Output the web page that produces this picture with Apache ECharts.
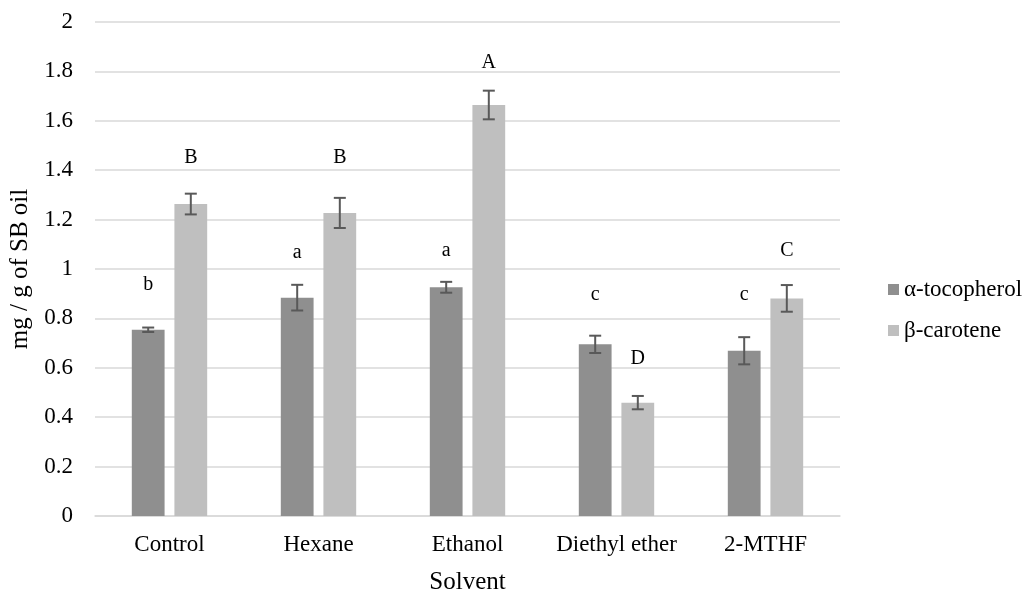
<!DOCTYPE html>
<html>
<head>
<meta charset="utf-8">
<script src="https://cdn.jsdelivr.net/npm/echarts@6/dist/echarts.min.js"></script>
<style>
html,body{margin:0;padding:0;background:#fff;}
#main{width:1026px;height:591px;}
</style>
</head>
<body>
<div id="main"></div>
<script>
// 数据
var solvents = ['Control', 'Hexane', 'Ethanol', 'Diethyl ether', '2-MTHF'];
var seriesNames = ['α-tocopherol', 'β-carotene'];
var tocoValues = [0.754, 0.884, 0.926, 0.695, 0.669];
var tocoErr = [0.009, 0.052, 0.022, 0.035, 0.055];
var caroValues = [1.263, 1.227, 1.664, 0.459, 0.881];
var caroErr = [0.042, 0.061, 0.058, 0.027, 0.054];
// 显著性字母及其高度
var tocoLetters = ['b', 'a', 'a', 'c', 'c'];
var tocoLetterY = [0.935, 1.065, 1.075, 0.895, 0.895];
var caroLetters = ['B', 'B', 'A', 'D', 'C'];
var caroLetterY = [1.449, 1.449, 1.833, 0.638, 1.075];
var yTicks = [0, 2, 0.2];

var colors = ['#8f8f8f', '#bfbfbf'];
var BAR_W = 0.22, BAR_GAP = 0.3;
var font = '"Liberation Serif", "Times New Roman", serif';

function makeErr(vals, errs) {
	return vals.map(function (v, i) { return [i, v - errs[i], v + errs[i]]; });
}
function makeLetters(ys, letters) {
	return ys.map(function (y, i) { return [i, y, letters[i]]; });
}

// 误差线
function errRender(side) {
	return function (params, api) {
		var cat = api.value(0);
		var lo = api.coord([cat, api.value(1)]);
		var hi = api.coord([cat, api.value(2)]);
		var bw = api.size([1, 0])[0] * BAR_W;
		var x = lo[0] + side * bw * (0.5 + BAR_GAP / 2);
		var cap = 6;
		var st = { stroke: '#595959', lineWidth: 2 };
		return {
			type: 'group',
			children: [
				{ type: 'line', shape: { x1: x, y1: lo[1], x2: x, y2: hi[1] }, style: st },
				{ type: 'line', shape: { x1: x - cap, y1: lo[1], x2: x + cap, y2: lo[1] }, style: st },
				{ type: 'line', shape: { x1: x - cap, y1: hi[1], x2: x + cap, y2: hi[1] }, style: st }
			]
		};
	};
}
// 字母
function letterRender(side) {
	return function (params, api) {
		var cat = api.value(0);
		var p = api.coord([cat, api.value(1)]);
		var bw = api.size([1, 0])[0] * BAR_W;
		var x = p[0] + side * bw * (0.5 + BAR_GAP / 2);
		return {
			type: 'text',
			style: {
				x: x, y: p[1], text: api.value(2),
				fill: '#000', font: '20px ' + font,
				align: 'center', verticalAlign: 'middle'
			}
		};
	};
}

var chart = echarts.init(document.getElementById('main'));
var option = {
	animation: false,
	textStyle: { fontFamily: font },
	grid: { left: 95, right: 186, top: 22, bottom: 75, containLabel: false, outerBoundsMode: 'none' },
	legend: {
		orient: 'vertical',
		left: 883,
		top: 273,
		itemWidth: 11,
		itemHeight: 11,
		itemGap: 18,
		icon: 'rect',
		data: seriesNames,
		textStyle: { fontFamily: font, fontStyle: 'normal', fontWeight: 'normal', fontSize: 23, color: '#000' }
	},
	xAxis: {
		type: 'category',
		data: solvents,
		name: 'Solvent',
		nameLocation: 'middle',
		nameGap: 54,
		nameTextStyle: { fontFamily: font, fontSize: 25, color: '#000' },
		axisTick: { show: false },
		axisLine: { lineStyle: { color: '#d9d9d9', width: 1.5 } },
		axisLabel: { fontFamily: font, fontSize: 23, color: '#000', margin: 17, interval: 0, hideOverlap: false }
	},
	yAxis: {
		type: 'value',
		min: yTicks[0],
		max: yTicks[1],
		interval: yTicks[2],
		name: 'mg / g of SB oil',
		nameLocation: 'middle',
		nameGap: 60,
		nameTextStyle: { fontFamily: font, fontSize: 25, color: '#000' },
		axisLine: { show: false },
		axisTick: { show: false },
		axisLabel: { fontFamily: font, fontSize: 23, color: '#000', margin: 22 },
		splitLine: { lineStyle: { color: '#d9d9d9', width: 1.5 } }
	},
	series: [
		{
			name: seriesNames[0], type: 'bar', data: tocoValues,
			barWidth: (BAR_W * 100) + '%', barGap: (BAR_GAP * 100) + '%',
			itemStyle: { color: colors[0] }
		},
		{
			name: seriesNames[1], type: 'bar', data: caroValues,
			barWidth: (BAR_W * 100) + '%', barGap: (BAR_GAP * 100) + '%',
			itemStyle: { color: colors[1] }
		},
		{ type: 'custom', renderItem: errRender(-1), data: makeErr(tocoValues, tocoErr), z: 10 },
		{ type: 'custom', renderItem: errRender(1), data: makeErr(caroValues, caroErr), z: 10 },
		{ type: 'custom', renderItem: letterRender(-1), data: makeLetters(tocoLetterY, tocoLetters), z: 10 },
		{ type: 'custom', renderItem: letterRender(1), data: makeLetters(caroLetterY, caroLetters), z: 10 }
	]
};
chart.setOption(option);
</script>
</body>
</html>
